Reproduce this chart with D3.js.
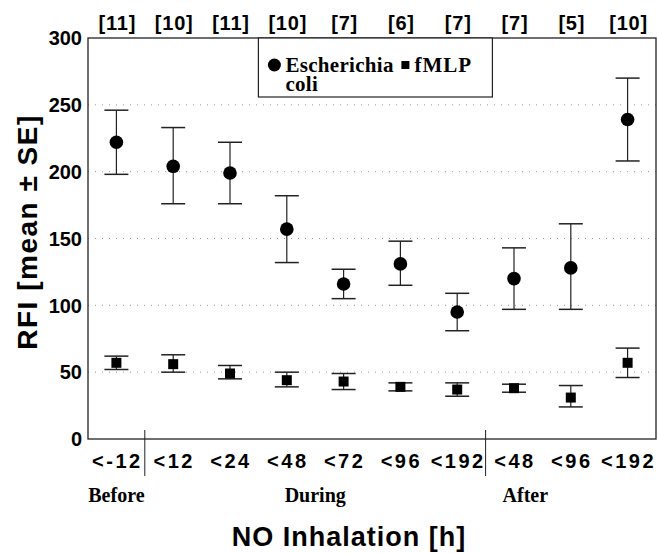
<!DOCTYPE html>
<html>
<head>
<meta charset="utf-8">
<script src="https://cdn.jsdelivr.net/npm/d3@7/dist/d3.min.js"></script>
<style>
  body { margin: 0; background: #fff; }
  .sans { font-family: "Liberation Sans", Arial, sans-serif; font-weight: bold; }
  .serif { font-family: "Liberation Serif", "Times New Roman", serif; font-weight: bold; }
</style>
</head>
<body>
<div id="myChart"></div>
<script>
// categories (hours) and group sizes
let categories = ["<-12", "<12", "<24", "<48", "<72", "<96", "<192", "<48 ", "<96 ", "<192 "];
let nLabels = ["[11]", "[10]", "[11]", "[10]", "[7]", "[6]", "[7]", "[7]", "[5]", "[10]"];

// Escherichia coli: mean, lower, upper
let ecoliMean = [222, 204, 199, 157, 116, 131, 95, 120, 128, 239];
let ecoliLow  = [198, 176, 176, 132, 105, 115, 81, 97, 97, 208];
let ecoliHigh = [246, 233, 222, 182, 127, 148, 109, 143, 161, 270];

// fMLP: mean, lower, upper
let fmlpMean = [57, 56, 49, 44, 43, 39, 37, 38, 31, 57];
let fmlpLow  = [52, 50, 45, 39, 37, 36, 32, 35, 24, 46];
let fmlpHigh = [62, 63, 55, 50, 49, 42, 42, 41, 40, 68];

let yTicks = [0, 50, 100, 150, 200, 250, 300];
let gridValues = [50, 100, 150, 200, 250];

// phase labels, placed in category units
let phases = [
    { label: "Before", at: 0 },
    { label: "During", at: 3.5 },
    { label: "After", at: 7.2 }
];
let separators = [1, 7];

let W = 658, H = 553;
let margin = { top: 38, right: 2, bottom: 114, left: 88 },
    width = W - margin.left - margin.right,
    height = H - margin.top - margin.bottom;

let x = d3.scaleBand()
    .domain(categories)
    .range([0, width])
    .padding(0);
let y = d3.scaleLinear()
    .domain([0, 300])
    .range([height, 0]);
let xi = d3.scaleLinear()
    .domain([0, categories.length])
    .range([0, width]);

let svg = d3.select("#myChart").append("svg")
    .attr("width", W)
    .attr("height", H)
    .append("g")
    .attr("transform", "translate(" + margin.left + "," + margin.top + ")");

// dotted grid
svg.selectAll(".grid")
    .data(gridValues)
    .enter()
    .append("line")
    .attr("x1", 0)
    .attr("x2", width)
    .attr("y1", d => y(d))
    .attr("y2", d => y(d))
    .attr("stroke", "#999")
    .attr("stroke-width", 1)
    .attr("stroke-dasharray", "1,6");

// frame
svg.append("rect")
    .attr("width", width)
    .attr("height", height)
    .attr("fill", "none")
    .attr("stroke", "#222")
    .attr("stroke-width", 1.3);

// y tick labels
svg.selectAll(".ytick")
    .data(yTicks)
    .enter()
    .append("text")
    .attr("class", "sans")
    .attr("x", -6)
    .attr("y", d => y(d))
    .attr("dy", "0.36em")
    .attr("text-anchor", "end")
    .style("font-size", "20px")
    .text(d => d);

// x category labels
svg.selectAll(".xtick")
    .data(categories)
    .enter()
    .append("text")
    .attr("class", "sans")
    .attr("x", d => x(d) + x.bandwidth() / 2 + 1)
    .attr("y", height + 29)
    .attr("text-anchor", "middle")
    .style("font-size", "20px")
    .style("letter-spacing", "2.5px")
    .text(d => d.trim());

// n labels above
svg.selectAll(".nlab")
    .data(nLabels)
    .enter()
    .append("text")
    .attr("class", "sans")
    .attr("x", (d, i) => x(categories[i]) + x.bandwidth() / 2 + 1)
    .attr("y", -8)
    .attr("text-anchor", "middle")
    .style("font-size", "20px")
    .style("letter-spacing", "0.8px")
    .text(d => d);

// group separators
svg.selectAll(".sep")
    .data(separators)
    .enter()
    .append("line")
    .attr("x1", d => xi(d))
    .attr("x2", d => xi(d))
    .attr("y1", height - 9)
    .attr("y2", height + 37)
    .attr("stroke", "#222")
    .attr("stroke-width", 1);

// phase labels
svg.selectAll(".phase")
    .data(phases)
    .enter()
    .append("text")
    .attr("class", "serif")
    .attr("x", d => xi(d.at + 0.5))
    .attr("y", height + 63)
    .attr("text-anchor", "middle")
    .style("font-size", "20px")
    .text(d => d.label);

// axis titles
svg.append("text")
    .attr("class", "sans")
    .attr("x", width / 2 - 23)
    .attr("y", height + 107)
    .attr("text-anchor", "middle")
    .style("font-size", "27px")
    .style("letter-spacing", "1px")
    .text("NO Inhalation [h]");

svg.append("text")
    .attr("class", "sans")
    .attr("transform", "rotate(-90)")
    .attr("x", -194)
    .attr("y", -margin.left + 37)
    .attr("text-anchor", "middle")
    .style("font-size", "28px")
    .style("letter-spacing", "1.5px")
    .text("RFI [mean \u00b1 SE]");

// error bars helper
function drawSeries(mean, low, high, cap) {
    let g = svg.append("g");
    let cx = (d, i) => x(categories[i]) + x.bandwidth() / 2;
    g.selectAll(".v")
        .data(mean)
        .enter()
        .append("line")
        .attr("x1", cx).attr("x2", cx)
        .attr("y1", (d, i) => y(low[i]))
        .attr("y2", (d, i) => y(high[i]))
        .attr("stroke", "#222")
        .attr("stroke-width", 1.2);
    [low, high].forEach(arr => {
        g.selectAll(null)
            .data(arr)
            .enter()
            .append("line")
            .attr("x1", (d, i) => cx(d, i) - cap)
            .attr("x2", (d, i) => cx(d, i) + cap)
            .attr("y1", d => y(d))
            .attr("y2", d => y(d))
            .attr("stroke", "#222")
            .attr("stroke-width", 1.5);
    });
    return g;
}

let ge = drawSeries(ecoliMean, ecoliLow, ecoliHigh, 12);
ge.selectAll("circle")
    .data(ecoliMean)
    .enter()
    .append("circle")
    .attr("cx", (d, i) => x(categories[i]) + x.bandwidth() / 2)
    .attr("cy", d => y(d))
    .attr("r", 6.8)
    .attr("fill", "#000");

let gf = drawSeries(fmlpMean, fmlpLow, fmlpHigh, 12);
gf.selectAll("rect")
    .data(fmlpMean)
    .enter()
    .append("rect")
    .attr("x", (d, i) => x(categories[i]) + x.bandwidth() / 2 - 5)
    .attr("y", d => y(d) - 5)
    .attr("width", 10)
    .attr("height", 10)
    .attr("fill", "#000");

// legend
let lg = svg.append("g").attr("transform", "translate(" + x(categories[3]) + ",0)");
lg.append("rect")
    .attr("width", 234)
    .attr("height", 59)
    .attr("fill", "#fff")
    .attr("stroke", "#222")
    .attr("stroke-width", 1.2);
lg.append("circle").attr("cx", 16).attr("cy", 27).attr("r", 6.5).attr("fill", "#000");
lg.append("text").attr("class", "serif").attr("x", 27).attr("y", 34)
    .style("font-size", "21px").style("letter-spacing", "0.3px").text("Escherichia");
lg.append("text").attr("class", "serif").attr("x", 27).attr("y", 53)
    .style("font-size", "21px").style("letter-spacing", "0.3px").text("coli");
lg.append("rect").attr("x", 143).attr("y", 23).attr("width", 8).attr("height", 8).attr("fill", "#000");
lg.append("text").attr("class", "serif").attr("x", 156).attr("y", 34)
    .style("font-size", "21px").style("letter-spacing", "1px").text("fMLP");
</script>
</body>
</html>
